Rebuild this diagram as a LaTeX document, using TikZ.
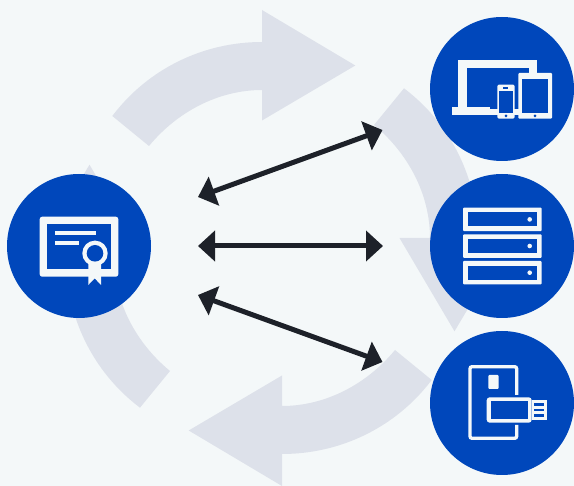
\documentclass[tikz,border=0pt]{standalone}
\usetikzlibrary{arrows.meta}
\definecolor{bgc}{HTML}{F4F8F9}
\definecolor{cyc}{HTML}{DDE1EA}
\definecolor{hubc}{HTML}{0047BB}
\definecolor{inkc}{HTML}{1D2129}
\tikzset{
  hub/.style={circle,fill=hubc,draw=none,minimum size=144pt,inner sep=0pt,outer sep=0pt},
  link/.style={draw=inkc,line width=5pt,{Triangle[length=17pt,width=30pt]}-{Triangle[length=17pt,width=30pt]}},
  wh/.style={fill=bgc,draw=none},
  bl/.style={fill=hubc,draw=none}
}
\begin{document}
\begin{tikzpicture}[x=1pt,y=-1pt]
\useasboundingbox (0,0) rectangle (574,486);
\fill[bgc] (0,0) rectangle (574,486);
% cycle of grey arrows
\foreach \a in {0,-90,180,90}{
  \begin{scope}[rotate around={\a:(272,248)}]
    \fill[cyc] (112.3,116) .. controls (148.1,68.7) and (203.3,42) .. (262,42)
      -- (262,10) -- (355.3,65.5) -- (262,120.5) -- (262,90)
      .. controls (218.4,90) and (177.1,111.9) .. (149,146) -- cycle;
  \end{scope}
}
% hubs
\node[hub] (cert) at (79,246) {};
\node[hub] (devices) at (502,89) {};
\node[hub] (servers) at (502,246) {};
\node[hub] (token) at (502,403) {};
% connectors
\coordinate (a1) at (198,197); \coordinate (b1) at (382.5,130);
\coordinate (a2) at (198,246); \coordinate (b2) at (383,246);
\coordinate (a3) at (198,295); \coordinate (b3) at (382.5,362);
\draw[link] (a1) -- (b1);
\draw[link] (a2) -- (b2);
\draw[link] (a3) -- (b3);
% certificate icon
\fill[wh,rounded corners=2.5pt] (39.7,216.7) rectangle (118.3,276.7);
\fill[bl] (47.3,224) rectangle (110.7,269);
\fill[wh] (55,231) rectangle (96,235.3);
\fill[wh] (55,241) rectangle (79,245);
\fill[wh] (88.3,262) -- (101,262) -- (101,285) -- (94.7,278.3) -- (88.3,285) -- cycle;
\fill[wh] (95,253.3) circle[radius=12.7];
\fill[bl] (95,253.3) circle[radius=8.3];
% devices icon
\fill[wh] (458,60) rectangle (537.3,100);
\fill[wh] (458,60) rectangle (466.7,110);
\fill[bl] (466.7,68.3) rectangle (529.3,107.3);
\fill[wh] (452,107.3) rectangle (490,115.3);
\fill[wh] (490,108.7) rectangle (520,115.3);
\fill[wh,rounded corners=1.5pt] (497.3,84.7) rectangle (514.7,118.7);
\fill[bl] (499,90.7) rectangle (513.3,113);
\fill[bl] (503.3,87.3) rectangle (508.3,88.7);
\fill[bl] (506,115.9) circle[radius=1.5];
\fill[wh,rounded corners=1pt] (518.3,73) rectangle (552,118.7);
\fill[bl] (522,79) rectangle (548.3,113);
\fill[bl] (535,115.9) circle[radius=1.5];
% servers icon
\foreach \t in {207.7,234.3,261}{
  \fill[wh,rounded corners=1pt] (463,\t) rectangle (541.7,\t+23.5);
  \fill[bl] (467.7,\t+4.7) rectangle (537,\t+18.8);
  \fill[wh] (529.7,\t+11.7) circle[radius=2.3];
}
% token icon
\draw[draw=bgc,line width=3.3pt,rounded corners=2pt] (516.7,395) -- (516.7,366.7) -- (470,366.7) -- (470,438.3) -- (516.7,438.3) -- (516.7,425);
\fill[wh,rounded corners=1pt] (488.3,375) rectangle (498.7,389);
\fill[wh,rounded corners=3pt] (486.7,397.3) rectangle (531.7,422.7);
\fill[bl] (490.7,401.3) rectangle (528.3,418.7);
\fill[wh] (531.7,400) rectangle (547,420);
\fill[bl] (534.3,403.3) rectangle (544,406);
\fill[bl] (534.3,408.7) rectangle (544,411.3);
\fill[bl] (534.3,414) rectangle (544,416.7);
\end{tikzpicture}
\end{document}
